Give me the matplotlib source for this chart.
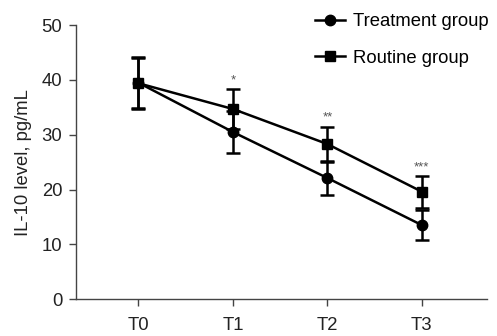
import numpy as np
import matplotlib.pyplot as plt
from matplotlib.lines import Line2D

plt.rcParams['font.family'] = ['Liberation Sans', 'DejaVu Sans']

# Data
times = ['T0', 'T1', 'T2', 'T3']
treatment_mean = [39.5, 30.5, 22.1, 13.5]
treatment_sd = [4.7, 3.9, 3.1, 2.8]
routine_mean = [39.4, 34.7, 28.3, 19.6]
routine_sd = [4.7, 3.7, 3.2, 2.9]
stars = ['', '*', '**', '***']

fig = plt.figure(figsize=(4.97, 3.36), dpi=100)
ax = fig.add_axes([0.153, 0.110, 0.827, 0.815])

x = np.arange(len(times))
axis_color = '#444444'
fs = 13.3

ax.errorbar(x, treatment_mean, yerr=treatment_sd, color='black', lw=1.8,
            marker='o', ms=7.5, capsize=5, capthick=1.8, elinewidth=1.8)
ax.errorbar(x, routine_mean, yerr=routine_sd, color='black', lw=1.8,
            marker='s', ms=7.5, capsize=5, capthick=1.8, elinewidth=1.8)

for xi, s, m, sd in zip(x, stars, routine_mean, routine_sd):
    if s:
        ax.text(xi, m + sd + 0.5, s, ha='center', va='bottom',
                fontsize=9.5, color='#555555')

ax.set_xlim(-0.66, 3.69)
ax.set_ylim(0, 50)
ax.set_xticks(x)
ax.set_xticklabels(times)
ax.set_yticks([0, 10, 20, 30, 40, 50])
ax.set_ylabel('IL-10 level, pg/mL', fontsize=fs, color='#222222', labelpad=7)

for side in ['top', 'right']:
    ax.spines[side].set_visible(False)
for side in ['left', 'bottom']:
    ax.spines[side].set_color(axis_color)
    ax.spines[side].set_linewidth(1.0)
ax.tick_params(colors=axis_color, labelcolor='#222222', labelsize=fs,
               length=5, width=1.0, pad=5)
ax.tick_params(axis='x', pad=8)

handles = [
    Line2D([], [], color='black', lw=1.8, marker='o', ms=7.5),
    Line2D([], [], color='black', lw=1.8, marker='s', ms=7.5),
]
fig.legend(handles, ['Treatment group', 'Routine group'],
           loc='upper left', bbox_to_anchor=(0.634, 0.96), frameon=False,
           fontsize=fs, handlelength=1.6, handletextpad=0.45,
           labelspacing=1.05, borderpad=0, borderaxespad=0)

fig.savefig('out.png', dpi=100)
